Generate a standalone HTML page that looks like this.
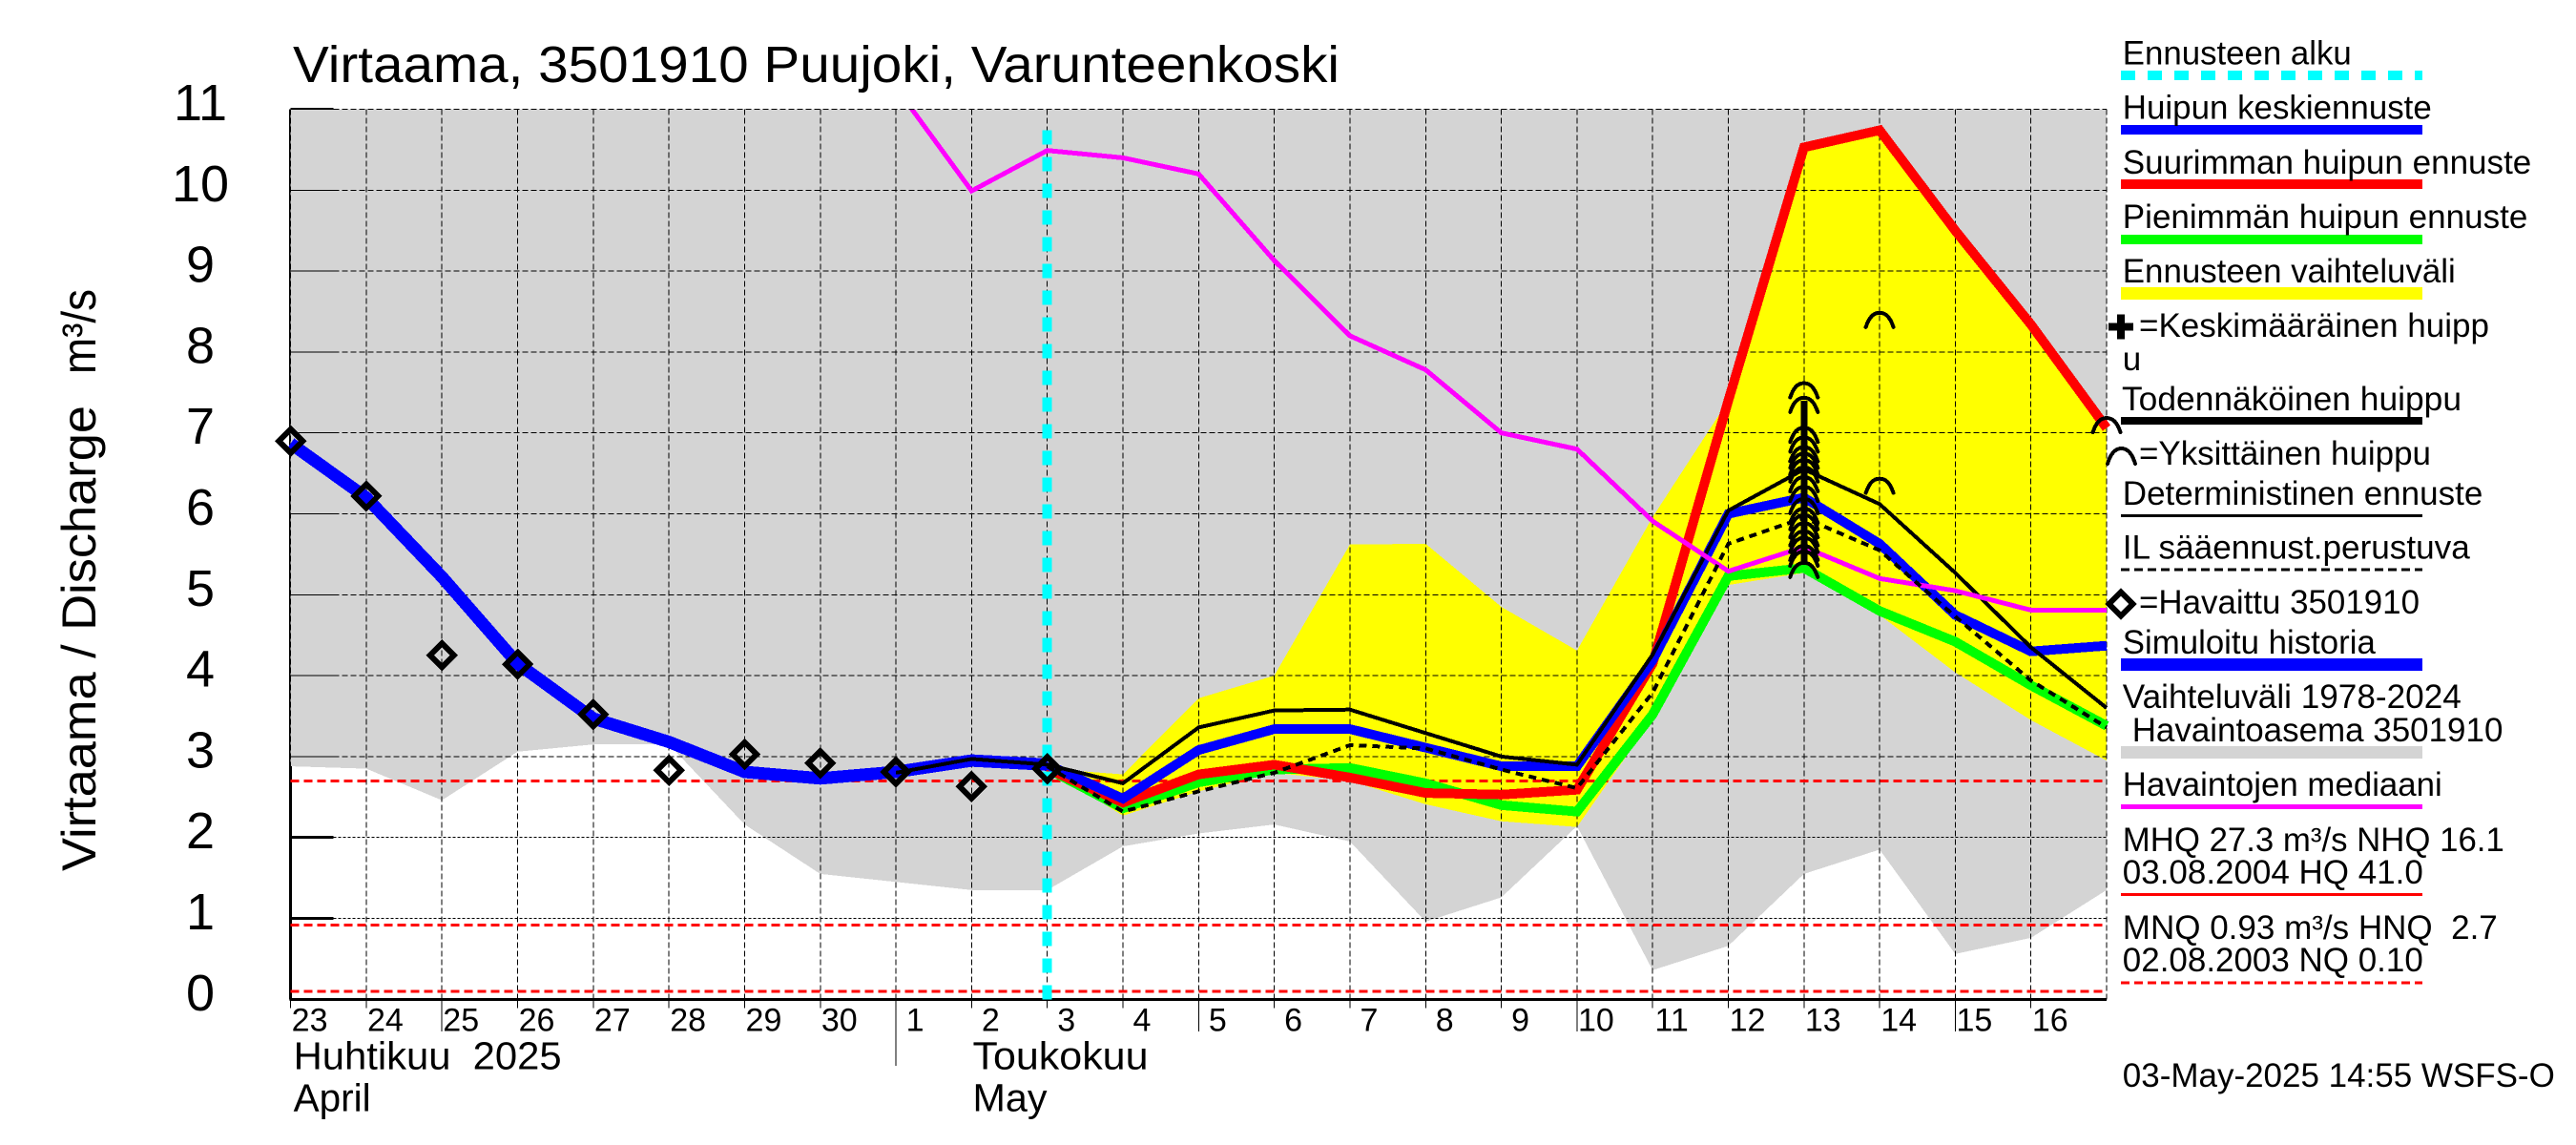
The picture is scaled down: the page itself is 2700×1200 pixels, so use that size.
<!DOCTYPE html>
<html lang="fi">
<head>
<meta charset="utf-8">
<title>Virtaama, 3501910 Puujoki, Varunteenkoski</title>
<style>
html,body{margin:0;padding:0;background:#fff;}
svg{display:block;}
text{font-family:"Liberation Sans",sans-serif;fill:#000;white-space:pre;}
.leg{font-size:35px;}
.ytick{font-size:54px;text-anchor:middle;}
.xtick{font-size:34px;text-anchor:middle;}
.month{font-size:41px;}
</style>
</head>
<body>
<svg id="chart" xmlns="http://www.w3.org/2000/svg" width="2700" height="1200" viewBox="0 0 2700 1200">
<defs><clipPath id="plot-top-clip"><rect x="290" y="115" width="1940" height="960"/></clipPath></defs>
<rect width="2700" height="1200" fill="#fff"/>
<g id="layer-fills" shape-rendering="crispEdges"></g>
<g id="layer-grid" shape-rendering="crispEdges"></g>
<g id="layer-series" shape-rendering="crispEdges"></g>
<g id="layer-marks" shape-rendering="crispEdges"></g>
<g id="layer-labels"></g>

<text x="307" y="86" font-size="54" textLength="1097" lengthAdjust="spacingAndGlyphs">Virtaama, 3501910 Puujoki, Varunteenkoski</text>
<text transform="translate(100 913) rotate(-90)" font-size="50" textLength="488" lengthAdjust="spacingAndGlyphs">Virtaama / Discharge</text>
<text transform="translate(100 392) rotate(-90)" font-size="50" textLength="89" lengthAdjust="spacingAndGlyphs">m³/s</text>
<text class="month" x="307.6" y="1120.5" textLength="281" lengthAdjust="spacingAndGlyphs">Huhtikuu  2025</text>
<text class="month" x="307.6" y="1164.5" textLength="81" lengthAdjust="spacingAndGlyphs">April</text>
<text class="month" x="1019.5" y="1120.5" textLength="184" lengthAdjust="spacingAndGlyphs">Toukokuu</text>
<text class="month" x="1019.5" y="1164.5" textLength="78" lengthAdjust="spacingAndGlyphs">May</text>

<g>
<g shape-rendering="crispEdges">
<line x1="2223" x2="2539" y1="79" y2="79" stroke="#00ffff" stroke-width="10" stroke-dasharray="15 13"/>
<line x1="2223" x2="2539" y1="136" y2="136" stroke="#0000ff" stroke-width="10"/>
<line x1="2223" x2="2539" y1="193" y2="193" stroke="#ff0000" stroke-width="10"/>
<line x1="2223" x2="2539" y1="251" y2="251" stroke="#00ff00" stroke-width="10"/>
<line x1="2223" x2="2539" y1="307.5" y2="307.5" stroke="#ffff00" stroke-width="13"/>
<path d="M2223 329.5V355.5M2210 342.5H2236" stroke="#000" stroke-width="8" fill="none"/>
<line x1="2223" x2="2539" y1="441" y2="441" stroke="#000" stroke-width="8"/>
<line x1="2223" x2="2539" y1="540.5" y2="540.5" stroke="#000" stroke-width="3"/>
<line x1="2223" x2="2539" y1="597" y2="597" stroke="#000" stroke-width="3" stroke-dasharray="9 5"/>
<path d="M2223 620.5L2235.5 633L2223 645.5L2210.5 633Z" stroke="#000" stroke-width="6" fill="#fff"/>
<line x1="2223" x2="2539" y1="696.5" y2="696.5" stroke="#0000ff" stroke-width="13"/>
<line x1="2223" x2="2539" y1="788.5" y2="788.5" stroke="#d4d4d4" stroke-width="13"/>
<line x1="2223" x2="2539" y1="845.5" y2="845.5" stroke="#ff00ff" stroke-width="5"/>
<line x1="2223" x2="2539" y1="937.5" y2="937.5" stroke="#ff0000" stroke-width="3"/>
<line x1="2223" x2="2539" y1="1030" y2="1030" stroke="#ff0000" stroke-width="3" stroke-dasharray="9 5"/>
</g>
<path d="M2209 486C2212 476 2217 470 2223.500 470C2230 470 2235 476 2238 486" stroke="#000" stroke-width="4" stroke-linecap="round" fill="none" shape-rendering="crispEdges"/>
<text class="leg" x="2224.800" y="67.700" textLength="240" lengthAdjust="spacingAndGlyphs">Ennusteen alku</text>
<text class="leg" x="2224.800" y="124.500" textLength="324" lengthAdjust="spacingAndGlyphs">Huipun keskiennuste</text>
<text class="leg" x="2224.800" y="182" textLength="428.500" lengthAdjust="spacingAndGlyphs">Suurimman huipun ennuste</text>
<text class="leg" x="2224.800" y="239" textLength="424.500" lengthAdjust="spacingAndGlyphs">Pienimmän huipun ennuste</text>
<text class="leg" x="2224.800" y="296" textLength="349" lengthAdjust="spacingAndGlyphs">Ennusteen vaihteluväli</text>
<text class="leg" x="2242" y="353" textLength="367" lengthAdjust="spacingAndGlyphs">=Keskimääräinen huipp</text>
<text class="leg" x="2224.800" y="388">u</text>
<text class="leg" x="2224" y="430" textLength="356" lengthAdjust="spacingAndGlyphs">Todennäköinen huippu</text>
<text class="leg" x="2242" y="487" textLength="306" lengthAdjust="spacingAndGlyphs">=Yksittäinen huippu</text>
<text class="leg" x="2224.800" y="529" textLength="377.500" lengthAdjust="spacingAndGlyphs">Deterministinen ennuste</text>
<text class="leg" x="2224.800" y="585.500" textLength="364" lengthAdjust="spacingAndGlyphs">IL sääennust.perustuva</text>
<text class="leg" x="2242" y="643" textLength="294" lengthAdjust="spacingAndGlyphs">=Havaittu 3501910</text>
<text class="leg" x="2224.800" y="685" textLength="265" lengthAdjust="spacingAndGlyphs">Simuloitu historia</text>
<text class="leg" x="2224.800" y="742" textLength="355" lengthAdjust="spacingAndGlyphs">Vaihteluväli 1978-2024</text>
<text class="leg" x="2234.700" y="777" textLength="388.700" lengthAdjust="spacingAndGlyphs">Havaintoasema 3501910</text>
<text class="leg" x="2224.800" y="834" textLength="335" lengthAdjust="spacingAndGlyphs">Havaintojen mediaani</text>
<text class="leg" x="2224.800" y="892" textLength="400" lengthAdjust="spacingAndGlyphs">MHQ 27.3 m³/s NHQ 16.1</text>
<text class="leg" x="2224.800" y="926" textLength="315" lengthAdjust="spacingAndGlyphs">03.08.2004 HQ 41.0</text>
<text class="leg" x="2224.800" y="984" textLength="393" lengthAdjust="spacingAndGlyphs">MNQ 0.93 m³/s HNQ  2.7</text>
<text class="leg" x="2224.800" y="1018" textLength="315" lengthAdjust="spacingAndGlyphs">02.08.2003 NQ 0.10</text>
<text class="leg" x="2224.800" y="1139" textLength="453" lengthAdjust="spacingAndGlyphs">03-May-2025 14:55 WSFS-O</text>
</g>
</svg>
<script>
// ---- chart data (m3/s), one value per day starting at 23 April ----
const dayLabels = ['23','24','25','26','27','28','29','30','1','2','3','4','5','6','7','8','9','10','11','12','13','14','15','16'];
const yTickLabels = [0,1,2,3,4,5,6,7,8,9,10,11];
const historicLow = [2.88,2.85,2.46,3.06,3.15,3.15,2.16,1.55,1.45,1.35,1.35,1.89,2.05,2.16,1.95,0.96,1.26,2.14,0.36,0.66,1.55,1.85,0.56,0.76,1.35];
const forecastStartIndex = 10;
const rangeUpper = [2.85,2.78,3.72,4.0,5.62,5.63,4.85,4.31,5.96,7.4,10.53,10.74,9.5,8.34,7.06];
const rangeLower = [2.85,2.27,2.57,2.8,2.7,2.41,2.2,2.13,3.47,5.12,5.27,4.75,4.04,3.45,2.95];
const maxPeak = [2.85,2.43,2.78,2.9,2.74,2.55,2.53,2.59,4.15,7.4,10.53,10.74,9.5,8.34,7.06];
const minPeak = [2.85,2.36,2.68,2.84,2.86,2.67,2.4,2.32,3.52,5.23,5.33,4.8,4.42,3.88,3.38];
const meanPeak = [2.9,2.48,3.08,3.34,3.34,3.11,2.88,2.88,4.19,6.0,6.2,5.63,4.75,4.3,4.37];
const simulatedHistory = [6.87,6.2,5.22,4.15,3.47,3.18,2.81,2.73,2.81,2.95,2.9];
const deterministicStartIndex = 8;
const deterministic = [2.8,2.97,2.9,2.67,3.36,3.57,3.58,3.29,3.0,2.9,4.26,6.04,6.55,6.12,5.27,4.35,3.6];
const ilForecast = [2.88,2.32,2.57,2.8,3.14,3.1,2.84,2.61,3.79,5.63,5.95,5.55,4.73,3.94,3.36];
const medianStartIndex = 8;
const median = [11.27,9.99,10.49,10.4,10.2,9.13,8.2,7.78,7.0,6.8,5.91,5.29,5.59,5.2,5.05,4.81,4.81];
const observed = [6.9,6.22,4.25,4.14,3.52,2.83,3.03,2.92,2.81,2.63,2.85];
const singlePeaksDay13 = [7.52,7.34,6.97,6.85,6.73,6.65,6.57,6.48,6.36,6.24,6.09,5.97,5.89,5.79,5.69,5.61,5.51,5.44,5.3];
const singlePeaksDay14 = [8.39,6.34];
const singlePeaksEnd = [7.09];
const singlePeakDay13Index = 20;
const singlePeakDay14Index = 21;
const singlePeakEndIndex = 24;
const probablePeakTop = 7.4;
const probablePeakBottom = 5.4;
const refLevels = [2.7,0.92,0.1];

// ---- axes ----
const yMax = 11;
const dayCount = 24;
function xAt(i){ return 304.6 + i * 79.31; }
function yAt(v){ return 1047.3 - v * 84.8; }

const SVGNS = 'http://www.w3.org/2000/svg';
const fills = document.getElementById('layer-fills');
const gridLayer = document.getElementById('layer-grid');
const seriesLayer = document.getElementById('layer-series');
const marksLayer = document.getElementById('layer-marks');
const labelsLayer = document.getElementById('layer-labels');

function make(tag, parent, props){
  const el = document.createElementNS(SVGNS, tag);
  for (const k in props) el.setAttribute(k, props[k]);
  parent.appendChild(el);
  return el;
}
function pts(values, start){
  return values.map(function(v, i){ return xAt(start + i).toFixed(1) + ',' + yAt(v).toFixed(1); }).join(' ');
}
function drawLine(values, start, color, width, dash, parent){
  const props = {points: pts(values, start), fill: 'none', stroke: color, 'stroke-width': width, 'stroke-linejoin': 'miter'};
  if (dash) props['stroke-dasharray'] = dash;
  return make('polyline', parent || seriesLayer, props);
}

// left axis and heavy y ticks sit under the historic band
const leftAxis = make('line', fills, {x1: xAt(0), x2: xAt(0), y1: yAt(yMax), y2: yAt(0), stroke: '#000', 'stroke-width': 3});



yTickLabels.forEach(function(v){
  const t = make('line', fills, {x1: xAt(0), x2: xAt(0) + 45, y1: yAt(v), y2: yAt(v), stroke: '#000', 'stroke-width': 3});
  
  
});

// historic range band
const greyTop = xAt(0) + ',' + yAt(yMax) + ' ' + xAt(dayCount) + ',' + yAt(yMax);
const greyLow = historicLow.map(function(v, i){ return xAt(i).toFixed(1) + ',' + yAt(v).toFixed(1); }).reverse().join(' ');
const grey = make('polygon', fills, {points: greyTop + ' ' + greyLow, fill: '#d4d4d4'});



// forecast range band
const rangeLowRev = rangeLower.map(function(v, i){ return xAt(forecastStartIndex + i).toFixed(1) + ',' + yAt(v).toFixed(1); }).reverse().join(' ');
const yellow = make('polygon', fills, {points: pts(rangeUpper, forecastStartIndex) + ' ' + rangeLowRev, fill: '#ffff00'});



// grid + ticks
yTickLabels.forEach(function(v){
  if (v > 0) {
    const g = make('line', gridLayer, {x1: xAt(0), x2: xAt(dayCount), y1: yAt(v), y2: yAt(v), stroke: '#000', 'stroke-width': 1, 'stroke-dasharray': v <= 2 ? '3 2' : '6 3'});
    
    
    const thin = make('line', gridLayer, {x1: xAt(0), x2: xAt(0) + 45, y1: yAt(v), y2: yAt(v), stroke: '#000', 'stroke-width': 1});
    
    
  }
  const lab = make('text', labelsLayer, {x: 210, y: yAt(v) + 11.5, class: 'ytick'});
  lab.textContent = String(v);
  
  
});
for (let i = 0; i <= dayCount; i++){
  const g = make('line', gridLayer, {x1: xAt(i), x2: xAt(i), y1: yAt(yMax), y2: yAt(0), stroke: '#000', 'stroke-width': 1, 'stroke-dasharray': '6 3'});
  
  
}
dayLabels.forEach(function(d, i){
  const n = parseInt(d, 10);
  const isMonthStart = n === 1;
  const isLong = n % 5 === 0 && n !== 30;
  const tickEnd = isMonthStart ? 1117 : (isLong ? 1081 : 1056.5);
  const tick = make('line', gridLayer, {x1: xAt(i), x2: xAt(i), y1: yAt(0), y2: tickEnd, stroke: '#000', 'stroke-width': 1});
  
  
  const lab = make('text', labelsLayer, {x: xAt(i) + 20, y: 1080.5, class: 'xtick'});
  lab.textContent = d;
  
  
});
const xAxis = make('line', gridLayer, {x1: xAt(0) - 1, x2: xAt(dayCount), y1: yAt(0), y2: yAt(0), stroke: '#000', 'stroke-width': 3});



// reference levels
refLevels.forEach(function(v){
  const l = make('line', gridLayer, {x1: xAt(0), x2: xAt(dayCount), y1: yAt(v), y2: yAt(v), stroke: '#ff0000', 'stroke-width': 3, 'stroke-dasharray': '9 5'});
  
  
});

// series (back to front)
const simLine = drawLine(simulatedHistory, 0, '#0000ff', 13);



const minLine = drawLine(minPeak, forecastStartIndex, '#00ff00', 10);



const maxLine = drawLine(maxPeak, forecastStartIndex, '#ff0000', 10);



const meanLine = drawLine(meanPeak, forecastStartIndex, '#0000ff', 10);



const detLine = drawLine(deterministic, deterministicStartIndex, '#000', 4);



const medLine = drawLine(median, medianStartIndex, '#ff00ff', 5);
medLine.setAttribute('clip-path', 'url(#plot-top-clip)');



const ilLine = drawLine(ilForecast, forecastStartIndex, '#000', 4, '8 6');



// forecast start marker
const startLine = make('line', seriesLayer, {x1: xAt(forecastStartIndex), x2: xAt(forecastStartIndex), y1: yAt(0), y2: yAt(yMax) + 11, stroke: '#00ffff', 'stroke-width': 10, 'stroke-dasharray': '15 13'});



// probable peak bar + single peak arches
const peakBar = make('line', marksLayer, {x1: xAt(singlePeakDay13Index), x2: xAt(singlePeakDay13Index), y1: yAt(probablePeakTop), y2: yAt(probablePeakBottom), stroke: '#000', 'stroke-width': 7});



function arch(index, v){
  const cx = xAt(index), cy = yAt(v);
  const d = 'M' + (cx - 14.5) + ' ' + (cy + 7) + 'C' + (cx - 11) + ' ' + (cy - 3) + ' ' + (cx - 7) + ' ' + (cy - 8) + ' ' + cx + ' ' + (cy - 8) + 'C' + (cx + 7) + ' ' + (cy - 8) + ' ' + (cx + 11) + ' ' + (cy - 3) + ' ' + (cx + 14.5) + ' ' + (cy + 7);
  const a = make('path', marksLayer, {d: d, fill: 'none', stroke: '#000', 'stroke-width': 4, 'stroke-linecap': 'round'});
  
  
}
singlePeaksDay13.forEach(function(v){ arch(singlePeakDay13Index, v); });
singlePeaksDay14.forEach(function(v){ arch(singlePeakDay14Index, v); });
singlePeaksEnd.forEach(function(v){ arch(singlePeakEndIndex, v); });

// observed diamonds
observed.forEach(function(v, i){
  const cx = xAt(i), cy = yAt(v);
  const dm = make('path', marksLayer, {d: 'M' + cx + ' ' + (cy - 12.5) + 'L' + (cx + 12.5) + ' ' + cy + 'L' + cx + ' ' + (cy + 12.5) + 'L' + (cx - 12.5) + ' ' + cy + 'Z', fill: 'none', stroke: '#000', 'stroke-width': 6});
  
  
});
</script>
</body>
</html>
